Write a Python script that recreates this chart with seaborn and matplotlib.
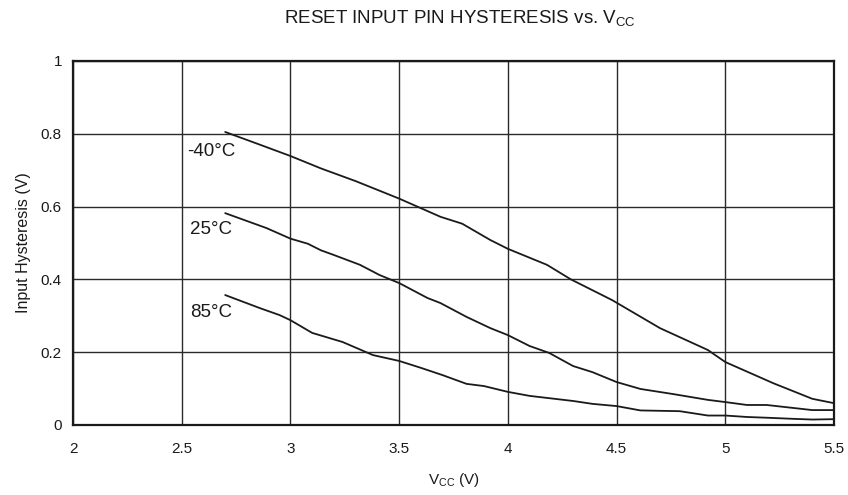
import matplotlib
matplotlib.use("Agg")
import matplotlib.pyplot as plt
import seaborn as sns
import pandas as pd

# Input hysteresis vs supply voltage, one curve per temperature
vcc_m40 = [2.70, 2.86, 3.00, 3.14, 3.30, 3.50, 3.69, 3.79, 3.92, 4.00, 4.18, 4.29,
           4.48, 4.70, 4.92, 5.00, 5.22, 5.40, 5.50]
hyst_m40 = [0.805, 0.770, 0.739, 0.705, 0.670, 0.622, 0.572, 0.553, 0.508, 0.484, 0.440, 0.400,
            0.343, 0.266, 0.206, 0.173, 0.115, 0.072, 0.060]

vcc_25 = [2.70, 2.89, 3.00, 3.08, 3.14, 3.20, 3.32, 3.41, 3.50, 3.63, 3.69, 3.81, 3.92,
          4.00, 4.10, 4.19, 4.30, 4.39, 4.50, 4.61, 4.76, 4.92, 5.00, 5.10, 5.19, 5.31,
          5.40, 5.50]
hyst_25 = [0.582, 0.541, 0.512, 0.498, 0.480, 0.467, 0.440, 0.412, 0.390, 0.349, 0.335,
           0.297, 0.266, 0.247, 0.217, 0.198, 0.162, 0.145, 0.118, 0.099, 0.085, 0.069,
           0.063, 0.055, 0.055, 0.047, 0.041, 0.041]

vcc_85 = [2.70, 2.86, 2.95, 3.00, 3.10, 3.24, 3.38, 3.50, 3.60, 3.70, 3.81, 3.89, 4.00,
          4.10, 4.30, 4.39, 4.50, 4.61, 4.79, 4.92, 5.00, 5.10, 5.19, 5.31, 5.40, 5.50]
hyst_85 = [0.357, 0.321, 0.302, 0.288, 0.253, 0.228, 0.192, 0.176, 0.157, 0.137, 0.113,
           0.107, 0.091, 0.080, 0.066, 0.058, 0.052, 0.040, 0.038, 0.026, 0.026, 0.022,
           0.020, 0.017, 0.015, 0.016]

temps = ["-40°C", "25°C", "85°C"]
label_x = [2.525, 2.54, 2.54]
label_y = [0.75, 0.536, 0.308]

x_ticks = [2, 2.5, 3, 3.5, 4, 4.5, 5, 5.5]
x_tick_labels = ["2", "2.5", "3", "3.5", "4", "4.5", "5", "5.5"]
y_ticks = [0, 0.2, 0.4, 0.6, 0.8, 1.0]
y_tick_labels = ["0", "0.2", "0.4", "0.6", "0.8", "1"]

frames = []
for t, xs, ys in zip(temps, [vcc_m40, vcc_25, vcc_85], [hyst_m40, hyst_25, hyst_85]):
    frames.append(pd.DataFrame({"vcc": xs, "hyst": ys, "temp": t}))
df = pd.concat(frames, ignore_index=True)

sns.set_theme(style="white")
plt.rcParams["font.family"] = ["Liberation Sans", "DejaVu Sans"]

fig = plt.figure(figsize=(8.48, 4.95), dpi=100)
ax = fig.add_axes([73 / 848, 70 / 495, 761 / 848, 364 / 495])

sns.lineplot(data=df, x="vcc", y="hyst", hue="temp",
             palette=["#1a1a1a"] * 3, linewidth=1.3, legend=False,
             estimator=None, sort=False, ax=ax)

ax.set_xlim(2, 5.5)
ax.set_ylim(0, 1)
ax.set_xticks(x_ticks)
ax.set_xticklabels(x_tick_labels)
ax.set_yticks(y_ticks)
ax.set_yticklabels(y_tick_labels)
ax.grid(True, color="#2a2a2a", linewidth=1.0)
ax.set_axisbelow(True)
for s in ax.spines.values():
    s.set_color("#1a1a1a")
    s.set_linewidth(1.6)
ax.tick_params(axis="both", which="major", length=4, width=0.8, color="#555555",
               labelsize=11, labelcolor="#1a1a1a", direction="out")
ax.tick_params(axis="y", pad=4)
ax.tick_params(axis="x", pad=8)

for t, lx, ly in zip(temps, label_x, label_y):
    ax.text(lx, ly, t, fontsize=13.5, color="#1a1a1a", va="center", ha="left")

ax.set_xlabel("V$_{\\mathregular{CC}}$ (V)", fontsize=11, color="#1a1a1a", labelpad=11)
ax.set_ylabel("Input Hysteresis (V)", fontsize=11.5, color="#1a1a1a", labelpad=7)
fig.text(0.542, 0.962, "RESET INPUT PIN HYSTERESIS vs. V$_{\\mathregular{CC}}$",
         ha="center", va="center", fontsize=13.5, color="#1a1a1a")

fig.savefig("out.png", dpi=100)
